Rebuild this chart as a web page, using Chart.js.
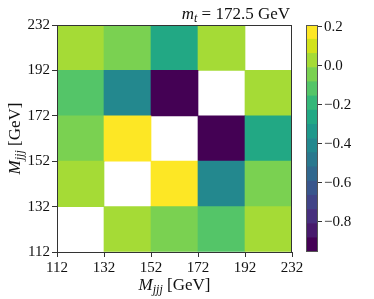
<!DOCTYPE html>
<html>
<head>
<meta charset="utf-8">
<script src="https://cdn.jsdelivr.net/npm/chart.js@4/dist/chart.umd.min.js"></script>
<style>
  html, body { margin: 0; padding: 0; background: #fff; }
  #wrap { position: relative; width: 374px; height: 299px; }
  #main { position: absolute; left: 0; top: 0; }
  #cbar { position: absolute; left: 296px; top: 0; }
</style>
</head>
<body>
<div id="wrap">
  <canvas id="main" width="374" height="299"></canvas>
  <canvas id="cbar" width="78" height="299"></canvas>
</div>
<script>
// ---- data ----
const edgeLabels = [112, 132, 152, 172, 192, 232];      // bin edges (x and y)
// correlation values per M_jjj row (y bin), columns = x bins 112-132 ... 192-232
const row112 = [null, 0.03, -0.05, -0.12, 0.03];
const row132 = [0.03, null, 0.21, -0.41, -0.05];
const row152 = [-0.05, 0.21, null, -0.955, -0.26];
const row172 = [-0.12, -0.41, -0.955, null, 0.03];
const row192 = [0.03, -0.05, -0.26, 0.03, null];
const rows = [row112, row132, row152, row172, row192];
const cbTicks = [0.2, 0.0, -0.2, -0.4, -0.6, -0.8];

// ---- style ----
const viridis16 = ["#440154","#481A6C","#472F7D","#414487","#39568C","#31688E","#2A788E","#23888E",
                   "#1F988B","#22A884","#35B779","#54C568","#7AD151","#A5DB36","#D2E21B","#FDE725"];
const SERIF = '"Liberation Serif", "Times New Roman", serif';
const TXT = '#111';
const allVals = rows.flat().filter(v => v !== null);
const vmin = Math.min(...allVals), vmax = Math.max(...allVals);
const NB = viridis16.length;
function colorFor(v) {
  let k = Math.floor((v - vmin) / (vmax - vmin) * NB);
  k = Math.max(0, Math.min(NB - 1, k));
  return viridis16[k];
}

function drawRich(ctx, parts, x, y, align) {
  let w = 0;
  parts.forEach(p => { ctx.font = p.font; w += ctx.measureText(p.t).width; });
  let cx = align === 'right' ? x - w : (align === 'center' ? x - w / 2 : x);
  ctx.textBaseline = 'alphabetic';
  ctx.textAlign = 'left';
  parts.forEach(p => {
    ctx.font = p.font;
    ctx.fillText(p.t, cx, y + (p.dy || 0));
    cx += ctx.measureText(p.t).width;
  });
}
const labelParts = [
  { t: 'M', font: 'italic 17px ' + SERIF },
  { t: 'jjj', font: 'italic 12px ' + SERIF, dy: 3 },
  { t: ' [GeV]', font: '17px ' + SERIF }
];
const titleParts = [
  { t: 'm', font: 'italic 17px ' + SERIF },
  { t: 't', font: 'italic 12px ' + SERIF, dy: 3 },
  { t: ' = 172.5 GeV', font: '17px ' + SERIF }
];

const decor = {
  id: 'decor',
  afterDraw(chart) {
    const { ctx, chartArea: a } = chart;
    ctx.save();
    ctx.strokeStyle = '#333';
    ctx.lineWidth = 1;
    ctx.strokeRect(a.left + 0.5, a.top + 0.5, a.right - a.left - 1, a.bottom - a.top);
    ctx.fillStyle = TXT;
    drawRich(ctx, titleParts, a.right - 2, 19, 'right');
    drawRich(ctx, labelParts, (a.left + a.right) / 2, 290, 'center');
    ctx.translate(20, (a.top + a.bottom) / 2);
    ctx.rotate(-Math.PI / 2);
    drawRich(ctx, labelParts, 0, 0, 'center');
    ctx.restore();
  }
};

const datasets = rows.map((r, j) => ({
  data: r.map((v, i) => ({ x: i + 0.5, y: [j, j + 1], v: v })).filter(p => p.v !== null),
  backgroundColor: c => colorFor(c.raw.v),
  borderWidth: 0,
  grouped: false,
  barPercentage: 1,
  categoryPercentage: 1
}));

function axisCommon() {
  return {
    type: 'linear', min: 0, max: 5, offset: false,
    grid: { offset: false, drawOnChartArea: false, drawTicks: true, tickLength: 5, color: '#333', tickColor: '#333' },
    border: { display: true, color: '#333' },
    ticks: { stepSize: 1, autoSkip: false, maxRotation: 0, color: TXT, padding: 2,
             font: { family: SERIF, size: 15 },
             callback: v => edgeLabels[v] }
  };
}

new Chart(document.getElementById('main'), {
  type: 'bar',
  data: { datasets },
  options: {
    responsive: false, animation: false, devicePixelRatio: 1,
    layout: { padding: { top: 25, right: 82, left: 0, bottom: 0 } },
    plugins: { legend: { display: false }, tooltip: { enabled: false } },
    scales: {
      x: Object.assign(axisCommon(), { afterFit: s => { s.height = 47; } }),
      y: Object.assign(axisCommon(), { afterFit: s => { s.width = 57; } })
    }
  },
  plugins: [decor]
});

// ---- colorbar ----
const bandW = (vmax - vmin) / NB;
const cbDatasets = viridis16.map((col, k) => ({
  data: [[vmin + k * bandW, vmin + (k + 1) * bandW]],
  backgroundColor: col, borderWidth: 0, grouped: false,
  barPercentage: 1, categoryPercentage: 1
}));
const outline = {
  id: 'outline',
  afterDraw(chart) {
    const { ctx, chartArea: a } = chart;
    ctx.save();
    ctx.strokeStyle = '#555';
    ctx.lineWidth = 1;
    ctx.strokeRect(a.left + 0.5, a.top + 0.5, a.right - a.left - 1, a.bottom - a.top - 1);
    ctx.restore();
  }
};
new Chart(document.getElementById('cbar'), {
  type: 'bar',
  data: { labels: [''], datasets: cbDatasets },
  options: {
    responsive: false, animation: false, devicePixelRatio: 1,
    layout: { padding: { top: 25, left: 10, right: 0, bottom: 47 } },
    plugins: { legend: { display: false }, tooltip: { enabled: false } },
    scales: {
      x: { display: false },
      y: {
        position: 'right', min: vmin, max: vmax,
        afterBuildTicks: s => { s.ticks = cbTicks.map(v => ({ value: v })); },
        afterFit: s => { s.width = 56; },
        grid: { drawOnChartArea: false, drawTicks: true, tickLength: 4, color: '#333', tickColor: '#333' },
        border: { display: false },
        ticks: { color: TXT, padding: 2, font: { family: SERIF, size: 15 },
                 callback: v => (v < 0 ? '\u2212' : '') + Math.abs(v).toFixed(1) }
      }
    }
  },
  plugins: [outline]
});
</script>
</body>
</html>
